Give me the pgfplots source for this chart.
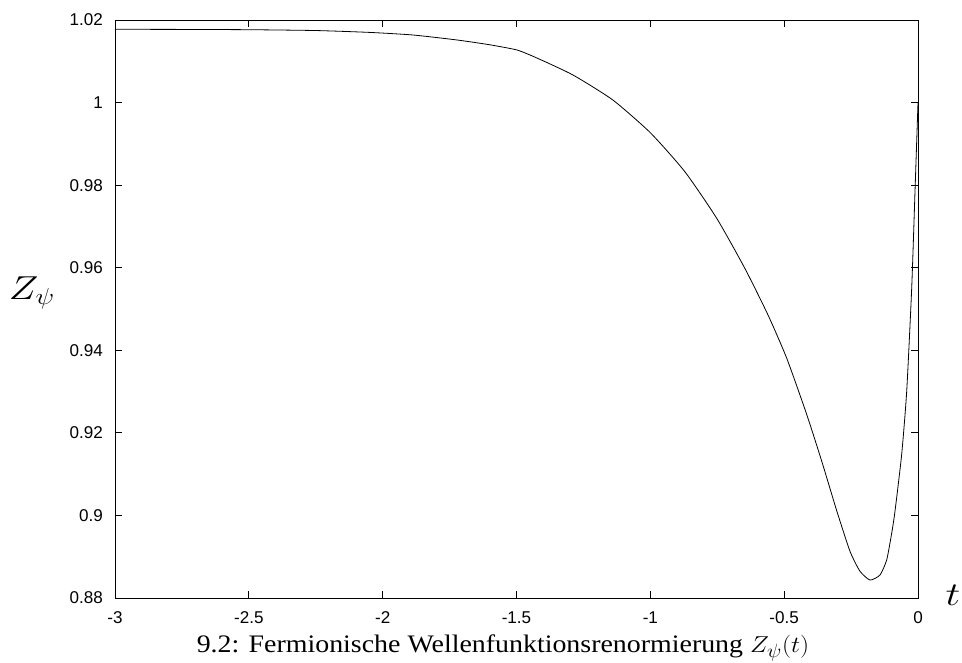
\documentclass[border=0pt]{standalone}
\usepackage{graphicx}
\usepackage{fontspec}
\setmainfont{Liberation Serif}
\newfontfamily\ticksans{Liberation Sans}
\usepackage{pgfplots}
\pgfplotsset{compat=1.18}

% Z_psi(t) sampled along the flow parameter t
\pgfplotstableread{
t        Z
-3.000   1.01775
-2.750   1.01772
-2.500   1.01765
-2.250   1.01745
-2.050   1.01700
-1.887   1.01637
-1.722   1.01516
-1.600   1.01400
-1.498   1.01273
-1.424   1.01080
-1.289   1.00668
-1.140   1.00062
-1.000   0.99270
-0.871   0.98326
-0.752   0.97197
-0.647   0.95986
-0.560   0.94850
-0.490   0.93800
-0.416   0.92450
-0.360   0.91320
-0.303   0.90100
-0.254   0.89130
-0.217   0.88650
-0.1794  0.88436
-0.1421  0.88557
-0.1171  0.88920
-0.0984  0.89567
-0.0860  0.90100
-0.0610  0.91480
-0.0423  0.93000
-0.0236  0.95500
-0.0112  0.97850
 0.000   1.00000
}\zdata

\begin{document}
\begin{tikzpicture}[x=0.75pt,y=0.75pt]
\useasboundingbox (-115,-64) rectangle (847,598);
\begin{axis}[
  at={(0,0)}, anchor=south west,
  scale only axis,
  width=602.25pt, height=433.5pt,
  xmin=-3, xmax=0, ymin=0.88, ymax=1.02,
  xtick={-3,-2.5,...,0},
  ytick={0.88,0.9,...,1.021},
  tick align=inside,
  major tick length=5.25pt,
  axis line style={line width=0.6pt},
  every tick/.style={black, line width=0.6pt},
  /pgf/number format/assume math mode=true,
  tick label style={font=\ticksans\fontsize{12.8}{14}\selectfont},
  xticklabel style={yshift=-6.5pt},
  yticklabel style={xshift=-5.5pt},
  clip=false,
]
\addplot[black, line width=0.6pt, smooth, tension=0.35] table[x=t, y=Z] {\zdata};
\end{axis}
% axis labels and caption
\node at (-83,305) {\scalebox{1.2}[1]{\fontsize{23.8}{26}\selectfont$Z_\psi$}};
\node at (838,3) {\scalebox{1.25}[1]{\fontsize{23.8}{26}\selectfont$t$}};
\node[anchor=base] at (388,-54) {\scalebox{1.107}[1]{\fontsize{18.9}{22}\selectfont 9.2: Fermionische Wellenfunktionsrenormierung $Z_\psi(t)$}};
\end{tikzpicture}
\end{document}
